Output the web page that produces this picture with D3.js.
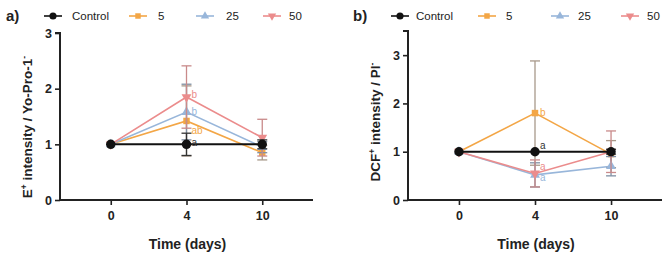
<!DOCTYPE html>
<html><head><meta charset="utf-8">
<script src="https://cdn.jsdelivr.net/npm/d3@7"></script>
<style>body{margin:0;background:#fff}svg{display:block;font-family:"Liberation Sans",Arial,sans-serif}</style>
</head><body><svg id="c" width="669" height="257"></svg>
<script>
const days = ["0", "4", "10"];
const seriesNames = ["Control", "5", "25", "50"];
const seriesColors = ["#111111", "#f3a646", "#98b6da", "#eb8c8c"];
const errColors = ["#333333", "#a8998a", "#7f8fa3", "#c98a8a"];
const seriesShapes = ["circle", "square", "triangle", "triangleDown"];

// Panel a: E+ intensity / Yo-Pro-1-
const aControl = [1, 1, 1];
const a5 = [1, 1.42, 0.85];
const a25 = [1, 1.58, 0.95];
const a50 = [1, 1.85, 1.12];
const aControlErr = [0, 0.2, 0.08];
const a5Err = [0, 0.63, 0.13];
const a25Err = [0, 0.5, 0.1];
const a50Err = [0, 0.56, 0.33];
const aLetters = [["b", 3], ["b", 2], ["ab", 1], ["a", 0]];

// Panel b: DCF+ intensity / PI-
const bControl = [1, 1, 1];
const b5 = [1, 1.8, 0.95];
const b25 = [1, 0.52, 0.7];
const b50 = [1, 0.55, 1.0];
const bControlErr = [0, 0, 0.05];
const b5Err = [0, 1.08, 0.28];
const b25Err = [0, 0.25, 0.2];
const b50Err = [0, 0.28, 0.43];
const bLetters = [["b", 1], ["a", 0], ["a", 3], ["a", 2]];

const yTicksA = [0, 1, 2, 3];
const yTicksB = [0, 1, 2, 3];

const svg = d3.select("#c");

function symbolFor(shape, size) {
  const t = {circle: d3.symbolCircle, square: d3.symbolSquare, triangle: d3.symbolTriangle, triangleDown: d3.symbolTriangle}[shape];
  return d3.symbol().type(t).size(size)();
}

function drawPanel(o) {
  const g = svg.append("g");
  const x = d3.scalePoint().domain(days).range([o.x0, o.x1]).padding(0.67);
  const y = d3.scaleLinear().domain([0, o.yMax]).range([200, o.yTop]);

  // axes
  const ya = g.append("g").attr("transform", `translate(${o.x0},0)`)
    .call(d3.axisLeft(y).tickValues(o.yTicks).tickFormat(d3.format("d")).tickSize(5).tickPadding(3));
  const xa = g.append("g").attr("transform", `translate(0,200)`)
    .call(d3.axisBottom(x).tickSize(5).tickPadding(6));
  [ya, xa].forEach(a => {
    a.select(".domain").attr("stroke", "#222").attr("stroke-width", 2);
    a.selectAll(".tick line").attr("stroke", "#222").attr("stroke-width", 1.6);
    a.selectAll("text").attr("font-size", 12.5).attr("font-weight", "bold").attr("fill", "#222")
      .attr("font-family", '"Liberation Sans",Arial,sans-serif');
  });
  ya.select(".domain").attr("d", `M0,${y(0)+1}V${o.yTop}H-5`);
  xa.select(".domain").attr("d", `M${o.x0},0H${o.x1}`);

  // titles
  g.append("text").attr("x", (o.x0 + o.x1) / 2 + 1).attr("y", 249).attr("text-anchor", "middle")
    .attr("font-size", 14).attr("font-weight", "bold").attr("fill", "#222").text("Time (days)");
  const yt = g.append("text").attr("transform", `translate(${o.ylabX},${o.ylabY}) rotate(-90)`)
    .attr("text-anchor", "middle").attr("font-size", 13.5).attr("font-weight", "bold").attr("fill", "#222");
  o.ylab.forEach(p => {
    const ts = yt.append("tspan").text(p[0]);
    if (p[1]) ts.attr("baseline-shift", "super").attr("font-size", 8.5);
  });
  g.append("text").attr("x", o.labX).attr("y", 21).attr("font-size", 15).attr("font-weight", "bold")
    .attr("fill", "#222").text(o.label);

  const order = [1, 2, 3, 0];
  order.forEach(i => {
    const vals = o.vals[i], errs = o.errs[i];
    vals.forEach((v, j) => {
      if (errs[j] <= 0) return;
      const cx = x(days[j]);
      const eg = g.append("g").attr("stroke", errColors[i]).attr("stroke-width", 1.3);
      eg.append("line").attr("x1", cx).attr("x2", cx).attr("y1", y(v - errs[j])).attr("y2", y(v + errs[j]));
      [v - errs[j], v + errs[j]].forEach(e => eg.append("line").attr("x1", cx - 5).attr("x2", cx + 5).attr("y1", y(e)).attr("y2", y(e)));
    });
    g.append("path").datum(vals).attr("fill", "none").attr("stroke", seriesColors[i])
      .attr("stroke-width", i === 0 ? 2 : 1.6)
      .attr("d", d3.line().x((d, j) => x(days[j])).y(d => y(d)));
    vals.forEach((v, j) => {
      g.append("path").attr("d", symbolFor(seriesShapes[i], i === 0 ? 70 : 42))
        .attr("transform", `translate(${x(days[j])},${y(v)})${seriesShapes[i] === "triangleDown" ? " rotate(180)" : ""}`)
        .attr("fill", seriesColors[i]);
    });
  });

  o.letters.forEach(([txt, i], k) => {
    g.append("text").attr("x", x(days[1]) + 5).attr("y", o.letterY[k]).attr("font-size", 10)
      .attr("fill", i === 0 ? "#333" : seriesColors[i]).text(txt);
  });

  seriesNames.forEach((n, i) => {
    const lx = o.legX[i];
    g.append("line").attr("x1", lx - 9).attr("x2", lx + 9).attr("y1", 16).attr("y2", 16)
      .attr("stroke", seriesColors[i]).attr("stroke-width", 1.6);
    g.append("path").attr("d", symbolFor(seriesShapes[i], i === 0 ? 40 : 30))
      .attr("transform", `translate(${lx},16)${seriesShapes[i] === "triangleDown" ? " rotate(180)" : ""}`)
      .attr("fill", seriesColors[i]);
    g.append("text").attr("x", o.legTX[i]).attr("y", 20).attr("font-size", 11.5).attr("fill", "#222").text(n);
  });
}

drawPanel({
  x0: 60, x1: 313, yMax: 3, yTop: 33, yTicks: yTicksA,
  vals: [aControl, a5, a25, a50], errs: [aControlErr, a5Err, a25Err, a50Err],
  letters: aLetters, letterY: [98, 115, 134, 146],
  ylab: [["E", 0], ["+", 1], [" intensity / Yo-Pro-1", 0], ["-", 1]], ylabX: 32, ylabY: 127,
  label: "a)", labX: 6,
  legX: [53, 138, 205, 272], legTX: [72, 158, 226, 289]
});
drawPanel({
  x0: 408, x1: 662, yMax: 3.5, yTop: 31, yTicks: yTicksB,
  vals: [bControl, b5, b25, b50], errs: [bControlErr, b5Err, b25Err, b50Err],
  letters: bLetters, letterY: [116, 149, 170, 181],
  ylab: [["DCF", 0], ["+", 1], [" intensity / PI", 0], ["-", 1]], ylabX: 380, ylabY: 122,
  label: "b)", labX: 353,
  legX: [400, 487, 560, 630], legTX: [416, 506, 578, 647]
});
</script></body></html>
